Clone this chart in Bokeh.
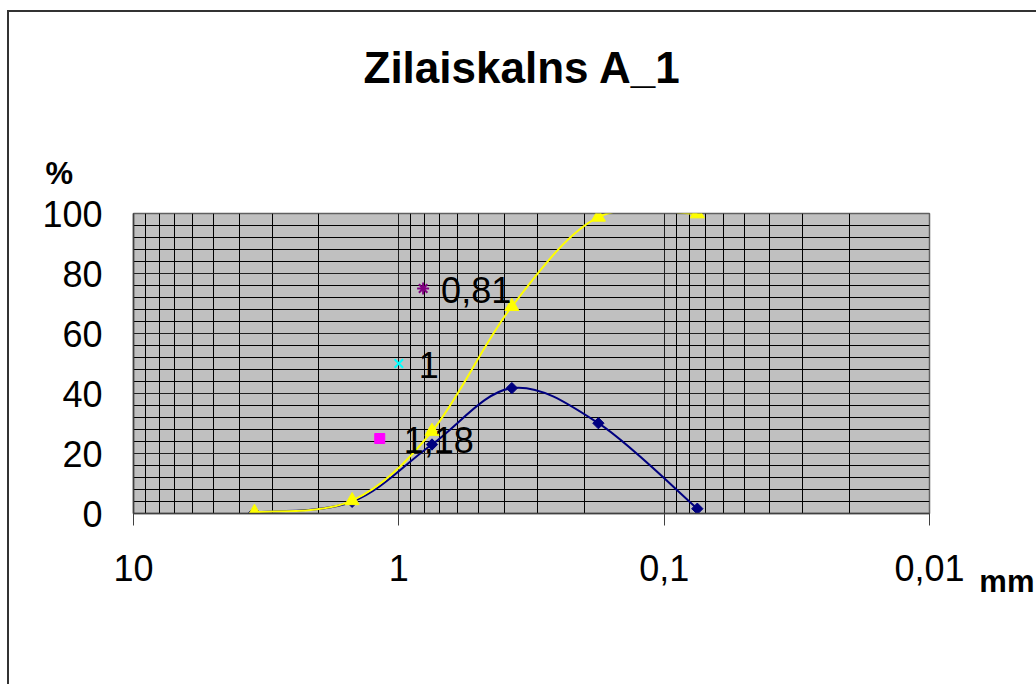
import numpy as np
from bokeh.plotting import figure
from bokeh.models import (Range1d, FixedTicker, CustomJSTickFormatter, Title,
                          SingleIntervalTicker)
from bokeh.core.properties import value
from bokeh.embed import file_html
from bokeh.resources import INLINE

# ---------------- data ----------------
title_text = "Zilaiskalns A_1"
y_title = "%"
x_title = "mm"
sizes_mm = [3.5, 1.5, 0.75, 0.375, 0.177, 0.075]          # particle size, mm
fraction_pct = [0.4, 3.9, 23.0, 41.8, 30.1, 1.6]           # blue series
cumulative_pct = [0.4, 4.3, 27.4, 69.0, 98.8, 99.9]        # yellow series
d_sizes = [1.18, 1.0, 0.81]                                # D25, D50, D75
d_levels = [25, 50, 75]
d_labels = ["1,18", "1", "0,81"]
x_ticks = [10, 1, 0.1, 0.01]
y_tick_step = 20

# ---------------- layout / style ----------------
FONT = "Liberation Sans"
W, H = 1036, 684
FL, FT, FW, FH = 133, 213, 796, 300     # frame placement inside canvas
X_LO, X_HI = 10, 0.01


def smooth(xs, ys):
    u = np.log10(np.asarray(xs, float))
    v = np.asarray(ys, float)
    n = len(u)
    out = {k: [] for k in ("x0", "y0", "x1", "y1", "cx0", "cy0", "cx1", "cy1")}
    for i in range(n - 1):
        i0, i3 = max(i - 1, 0), min(i + 2, n - 1)
        c1u = u[i] + (u[i + 1] - u[i0]) / 6
        c1v = v[i] + (v[i + 1] - v[i0]) / 6
        c2u = u[i + 1] - (u[i3] - u[i]) / 6
        c2v = v[i + 1] - (v[i3] - v[i]) / 6
        out["x0"].append(10 ** u[i]); out["y0"].append(v[i])
        out["x1"].append(10 ** u[i + 1]); out["y1"].append(v[i + 1])
        out["cx0"].append(10 ** c1u); out["cy0"].append(c1v)
        out["cx1"].append(10 ** c2u); out["cy1"].append(c2v)
    return out


p = figure(width=W, height=H, x_axis_type="log",
           x_range=Range1d(X_LO, X_HI), y_range=Range1d(0, 100),
           output_backend="svg", toolbar_location=None,
           min_border_left=FL, min_border_top=FT,
           min_border_right=W - FL - FW, min_border_bottom=H - FT - FH)

p.styles = {"box-shadow": "inset 7px 10px 0 0 #ffffff, inset 9px 12px 0 0 #333333"}
p.border_fill_alpha = 0
p.background_fill_color = "#C0C0C0"
p.outline_line_color = "#606060"
p.outline_line_width = 1.5

minor = [m * 10.0 ** e for e in range(-2, 1) for m in range(2, 10)]
xa = p.xaxis[0]
xa.ticker = FixedTicker(ticks=x_ticks, minor_ticks=minor)
xa.formatter = CustomJSTickFormatter(code="return tick.toString().replace('.', ',')")
xa.major_label_text_font = FONT
xa.major_label_text_font_size = "36px"
xa.major_label_text_color = "black"
xa.major_label_standoff = 29
xa.major_tick_out = 12
xa.major_tick_in = 0
xa.minor_tick_out = 0
xa.minor_tick_in = 0
xa.axis_line_color = "#404040"
xa.axis_line_width = 1.5
xa.major_tick_line_color = "#404040"

ya = p.yaxis[0]
ya.ticker = SingleIntervalTicker(interval=y_tick_step, num_minor_ticks=5)
ya.major_label_text_font = FONT
ya.major_label_text_font_size = "36px"
ya.major_label_text_color = "black"
ya.major_label_standoff = 31
ya.major_tick_out = 0
ya.major_tick_in = 0
ya.minor_tick_out = 0
ya.minor_tick_in = 0
ya.axis_line_color = "#404040"
ya.axis_line_width = 1.5

for g in (p.xgrid[0], p.ygrid[0]):
    g.grid_line_color = "#202020"
    g.grid_line_width = 1
    g.minor_grid_line_color = "black"
    g.minor_grid_line_width = 1

# blue (fraction) series
sb = smooth(sizes_mm, fraction_pct)
p.bezier(line_color="#000080", line_width=2, **sb)
p.scatter(sizes_mm, fraction_pct, marker="square", angle=np.pi / 4, size=8,
          fill_color="#000080", line_color="#000080")

# yellow (cumulative) series
sy = smooth(sizes_mm, cumulative_pct)
p.bezier(line_color="#FFFF00", line_width=2, **sy)
p.scatter(sizes_mm, cumulative_pct, marker="triangle", size=14,
          fill_color="#FFFF00", line_color="#FFFF00")

# D25 / D50 / D75 points
p.scatter([d_sizes[0]], [d_levels[0]], marker="square", size=10,
          fill_color="#FF00FF", line_color="#FF00FF")
p.scatter([d_sizes[1]], [d_levels[1]], marker="x", size=12,
          line_color="#00FFFF", line_width=2)
p.scatter([d_sizes[2]], [d_levels[2]], marker="asterisk", size=12,
          line_color="#800080", line_width=2)
label_dx = [24, 20, 18]
p.text(x=d_sizes, y=d_levels, text=d_labels, x_offset=label_dx, y_offset=1,
       text_font=value(FONT), text_font_size="36px", text_color="black",
       text_align="left", text_baseline="alphabetic")

# titles (side-panel annotations); "%" sits nearest the frame
p.add_layout(Title(text=y_title, text_font=FONT, text_font_size="31px",
                   text_font_style="bold", text_color="black",
                   align="left", offset=-88, standoff=45), "above")
p.title.text = title_text
p.title.text_font = FONT
p.title.text_font_size = "44px"
p.title.text_font_style = "bold"
p.title.text_color = "black"
p.title.align = "left"
p.title.offset = 230
p.title.standoff = 80

p.add_layout(Title(text=x_title, text_font=FONT, text_font_size="31px",
                   text_font_style="bold", text_color="black",
                   align="right", offset=-105, standoff=-40,
                   vertical_align="top"), "below")

open("out.html", "w").write(file_html(p, INLINE))
